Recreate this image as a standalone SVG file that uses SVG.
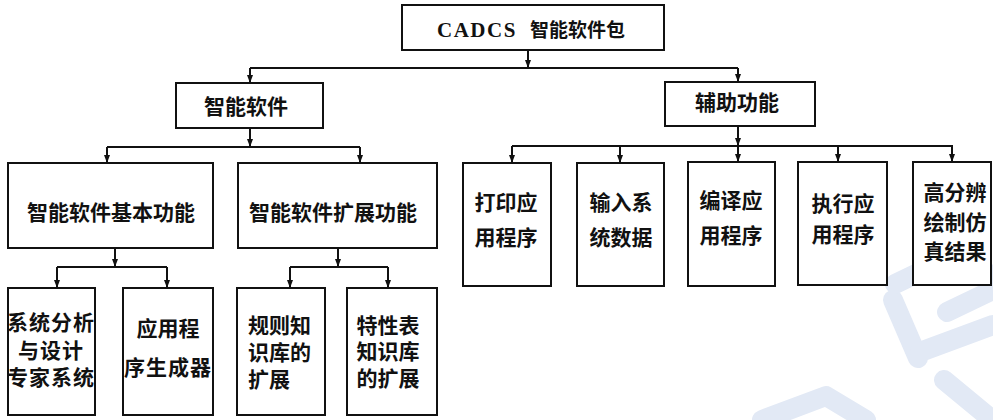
<svg xmlns="http://www.w3.org/2000/svg" width="993" height="420" viewBox="0 0 993 420">
<style>
.box{fill:#fff;stroke:#111;stroke-width:2}
.ln{fill:none;stroke:#111;stroke-width:2}
.t{font-family:"Liberation Sans","Noto Sans CJK SC","Noto Sans CJK JP",sans-serif;font-weight:bold;font-size:21px;fill:#111;dominant-baseline:central}
.m{text-anchor:middle}
.wm{fill:none;stroke:#e2e9f5;stroke-width:20;stroke-linecap:round;stroke-linejoin:round}
</style>
<defs>
<marker id="arr" markerWidth="8" markerHeight="8" refX="8" refY="4" orient="auto" markerUnits="userSpaceOnUse">
<path d="M0,1 L8,4 L0,7 Z" fill="#111"/>
</marker>
</defs>
<rect width="993" height="420" fill="#fff"/>
<g id="watermark">
<path class="wm" d="M893,300 L918,358"/>
<path class="wm" d="M920,352 L993,325"/>
<path class="wm" d="M947,312 L993,290"/>
<path class="wm" d="M965,262 L993,276"/>
<path class="wm" d="M944,380 L990,418"/>
<path class="wm" d="M762,420 L826,396 L866,420"/>
<path class="wm" d="M895,284 L920,272"/>
</g>
<g id="connectors">
<path class="ln" d="M528,50 V68" marker-end="url(#arr)"/>
<path class="ln" d="M250,68 H738"/>
<path class="ln" d="M250,68 V83" marker-end="url(#arr)"/>
<path class="ln" d="M738,68 V82" marker-end="url(#arr)"/>
<path class="ln" d="M250,128 V147" marker-end="url(#arr)"/>
<path class="ln" d="M107,147 H360"/>
<path class="ln" d="M107,147 V163" marker-end="url(#arr)"/>
<path class="ln" d="M360,147 V163" marker-end="url(#arr)"/>
<path class="ln" d="M738,126 V146" marker-end="url(#arr)"/>
<path class="ln" d="M512,146 H953"/>
<path class="ln" d="M512,146 V163" marker-end="url(#arr)"/>
<path class="ln" d="M620,146 V163" marker-end="url(#arr)"/>
<path class="ln" d="M738,146 V162" marker-end="url(#arr)"/>
<path class="ln" d="M838,146 V162" marker-end="url(#arr)"/>
<path class="ln" d="M952,146 V162" marker-end="url(#arr)"/>
<path class="ln" d="M115,248 V267" marker-end="url(#arr)"/>
<path class="ln" d="M57,267 H167"/>
<path class="ln" d="M57,267 V288" marker-end="url(#arr)"/>
<path class="ln" d="M167,267 V288" marker-end="url(#arr)"/>
<path class="ln" d="M338,248 V267" marker-end="url(#arr)"/>
<path class="ln" d="M290,267 H388"/>
<path class="ln" d="M290,267 V288" marker-end="url(#arr)"/>
<path class="ln" d="M388,267 V288" marker-end="url(#arr)"/>
</g>
<g id="root">
<rect class="box" x="402" y="5" width="262" height="45"/>
<text class="t" y="30"><tspan x="437" font-family="Liberation Serif" font-size="21" letter-spacing="1.5">CADCS</tspan><tspan x="530" font-size="19">智能软件包</tspan></text>
</g>
<g id="n-zhineng">
<rect class="box" x="176" y="83" width="147" height="45"/>
<text class="t m" x="246" y="106">智能软件</text>
</g>
<g id="n-fuzhu">
<rect class="box" x="665" y="82" width="150" height="44"/>
<text class="t m" x="737" y="102">辅助功能</text>
</g>
<g id="n-jiben">
<rect class="box" x="8" y="163" width="205" height="85"/>
<text class="t m" x="111" y="212">智能软件基本功能</text>
</g>
<g id="n-kuozhan">
<rect class="box" x="238" y="163" width="199" height="85"/>
<text class="t m" x="333" y="212">智能软件扩展功能</text>
</g>
<g id="n-xitong">
<rect class="box" x="8" y="288" width="87" height="127"/>
<text class="t m" letter-spacing="1"><tspan x="51" y="322">系统分析</tspan><tspan x="51" y="350">与设计</tspan><tspan x="51" y="377">专家系统</tspan></text>
</g>
<g id="n-shengcheng">
<rect class="box" x="123" y="288" width="90" height="127"/>
<text class="t m"><tspan x="168" y="328">应用程</tspan><tspan x="168" y="367" letter-spacing="1">序生成器</tspan></text>
</g>
<g id="n-guize">
<rect class="box" x="237" y="288" width="88" height="127"/>
<text class="t"><tspan x="248" y="325">规则知</tspan><tspan x="248" y="352">识库的</tspan><tspan x="248" y="379">扩展</tspan></text>
</g>
<g id="n-texing">
<rect class="box" x="347" y="288" width="90" height="127"/>
<text class="t m"><tspan x="388" y="325">特性表</tspan><tspan x="388" y="351">知识库</tspan><tspan x="388" y="378">的扩展</tspan></text>
</g>
<g id="n-dayin">
<rect class="box" x="463" y="163" width="88" height="123"/>
<text class="t m"><tspan x="506" y="202">打印应</tspan><tspan x="506" y="237">用程序</tspan></text>
</g>
<g id="n-shuru">
<rect class="box" x="577" y="163" width="87" height="123"/>
<text class="t m"><tspan x="621" y="202">输入系</tspan><tspan x="621" y="237">统数据</tspan></text>
</g>
<g id="n-bianyi">
<rect class="box" x="688" y="162" width="87" height="124"/>
<text class="t m"><tspan x="731" y="200">编译应</tspan><tspan x="731" y="235">用程序</tspan></text>
</g>
<g id="n-zhixing">
<rect class="box" x="798" y="162" width="89" height="123"/>
<text class="t m"><tspan x="843" y="203">执行应</tspan><tspan x="843" y="234">用程序</tspan></text>
</g>
<g id="n-gaofen">
<rect class="box" x="913" y="162" width="78" height="123"/>
<text class="t m"><tspan x="955" y="192">高分辨</tspan><tspan x="955" y="222">绘制仿</tspan><tspan x="955" y="251">真结果</tspan></text>
</g>
</svg>
